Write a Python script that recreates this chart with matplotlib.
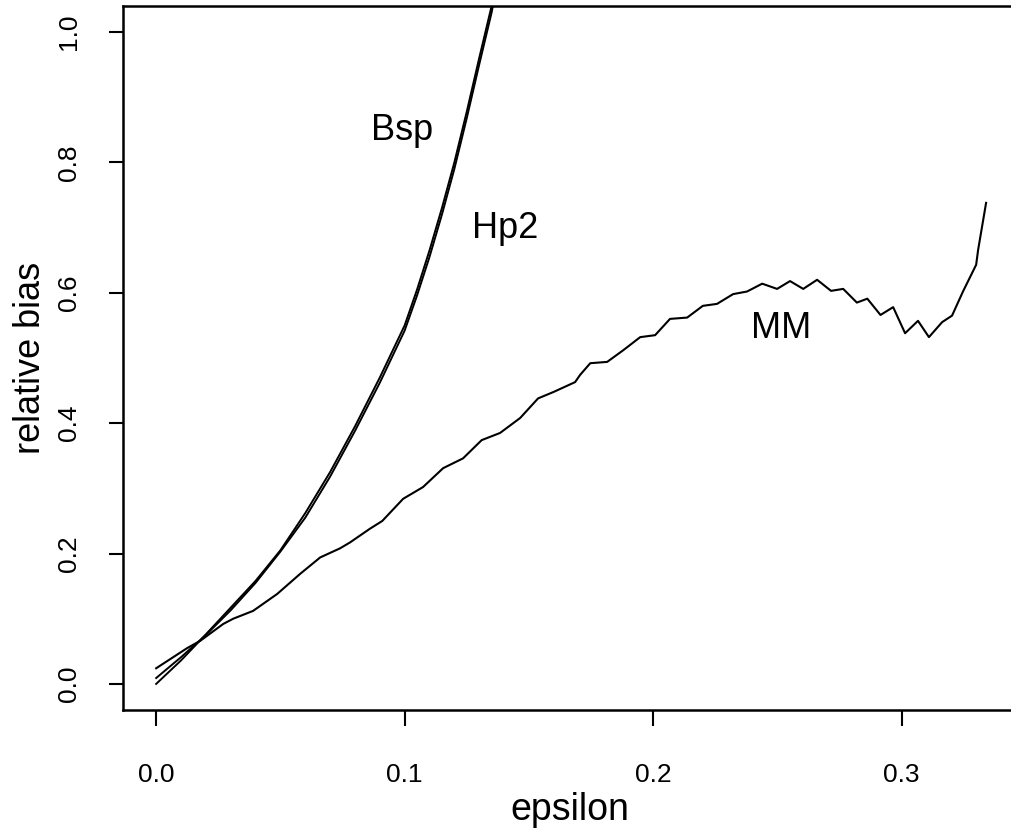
import numpy as np
import matplotlib.pyplot as plt

# smooth curves
eps_s = [0.0, 0.01, 0.02, 0.03, 0.04, 0.05, 0.06, 0.07, 0.08, 0.09, 0.10, 0.105,
         0.11, 0.115, 0.12, 0.125, 0.13, 0.135, 0.137]
bsp = [0.0, 0.036, 0.076, 0.117, 0.158, 0.205, 0.262, 0.325, 0.395, 0.47, 0.55, 0.605,
       0.665, 0.73, 0.80, 0.878, 0.96, 1.04, 1.08]
hp2 = [0.009, 0.041, 0.075, 0.113, 0.155, 0.203, 0.255, 0.318, 0.388, 0.462, 0.542, 0.596,
       0.655, 0.72, 0.79, 0.868, 0.95, 1.03, 1.07]

# MM curve (jagged)
eps_mm = [0.0, 0.0125, 0.0177, 0.027, 0.031, 0.039, 0.0487, 0.058, 0.066, 0.074, 0.078,
          0.086, 0.091, 0.0994, 0.1074, 0.1155, 0.1235, 0.131, 0.1384, 0.1465, 0.1537,
          0.16, 0.1686, 0.1706, 0.1747, 0.1815, 0.188, 0.1948, 0.2008, 0.2068, 0.2137,
          0.22, 0.2257, 0.2322, 0.2378, 0.2439, 0.2499, 0.2551, 0.2604, 0.266, 0.2716,
          0.2765, 0.282, 0.2862, 0.2915, 0.2966, 0.3014, 0.3066, 0.311, 0.3163, 0.3203,
          0.3247, 0.33, 0.3308, 0.334]
mm = [0.024, 0.055, 0.066, 0.092, 0.1, 0.112, 0.138, 0.169, 0.194, 0.208, 0.217,
      0.238, 0.25, 0.284, 0.302, 0.331, 0.346, 0.374, 0.385, 0.408, 0.438,
      0.448, 0.463, 0.474, 0.492, 0.494, 0.512, 0.532, 0.535, 0.56, 0.562,
      0.58, 0.583, 0.598, 0.602, 0.614, 0.606, 0.618, 0.606, 0.62, 0.603,
      0.606, 0.585, 0.591, 0.566, 0.578, 0.538, 0.557, 0.532, 0.555, 0.565,
      0.602, 0.643, 0.666, 0.738]

labels = [('Bsp', 0.099, 0.849), ('Hp2', 0.1405, 0.698), ('MM', 0.2515, 0.546)]

plt.rcParams['font.family'] = ['Liberation Sans', 'DejaVu Sans']

fig = plt.figure(figsize=(10.11, 8.34), dpi=100)
ax = fig.add_axes([0.1217, 0.1487, 0.8848, 0.8441])

ax.plot(eps_s, bsp, color='black', lw=1.4)
ax.plot(eps_s, hp2, color='black', lw=1.4)
ax.plot(eps_mm, mm, color='black', lw=1.5)

for txt, x, y in labels:
    ax.text(x, y, txt, fontsize=26, ha='center', va='center')

ax.set_xlim(-0.01333, 0.34667)
ax.set_ylim(-0.04, 1.04)
ax.set_xticks([0.0, 0.1, 0.2, 0.3])
ax.set_yticks([0.0, 0.2, 0.4, 0.6, 0.8, 1.0])
ax.set_xticklabels(['0.0', '0.1', '0.2', '0.3'])
ax.set_yticklabels(['0.0', '0.2', '0.4', '0.6', '0.8', '1.0'], rotation=90, va='center')
ax.tick_params(axis='both', direction='out', width=1.5, labelsize=19)
ax.tick_params(axis='x', length=11.5, pad=27)
ax.tick_params(axis='y', length=10, pad=20)
for s in ax.spines.values():
    s.set_linewidth(1.8)

ax.set_xlabel('epsilon', fontsize=27, labelpad=3)
ax.set_ylabel('relative bias', fontsize=26, labelpad=7)

fig.savefig('out.png', dpi=100)
